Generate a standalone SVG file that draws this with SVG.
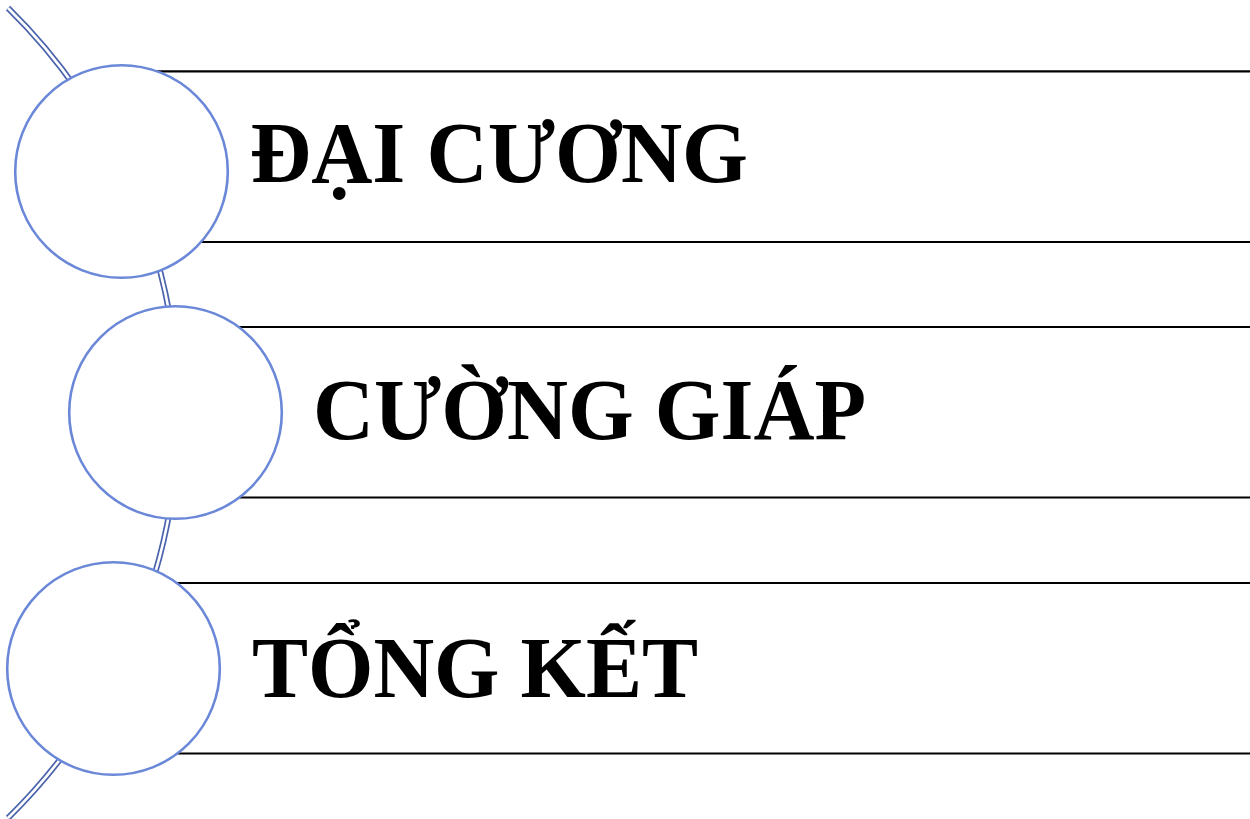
<svg xmlns="http://www.w3.org/2000/svg" width="1250" height="819" viewBox="0 0 1250 819">
<style>
.arc-out{fill:none;stroke:#4B63AD;stroke-width:6}
.arc-in{fill:none;stroke:#ffffff;stroke-width:2.6}
.band{stroke:#000000;stroke-width:2.2}
.node circle{fill:#ffffff;stroke:#6B88D8;stroke-width:2.6}
.label{font-family:"Liberation Serif","Times New Roman",serif;font-weight:bold;font-size:86px;fill:#000000}
</style>
<rect width="1250" height="819" fill="#ffffff"/>
<g id="connectors">
<path class="arc-out" d="M 8 8 A 567.3 567.3 0 0 1 8 818"/>
<path class="arc-in" d="M 8 8 A 567.3 567.3 0 0 1 8 818"/>
<line class="band" x1="121" y1="71.3" x2="1250" y2="71.3"/>
<line class="band" x1="121" y1="242" x2="1250" y2="242"/>
<line class="band" x1="175" y1="327" x2="1250" y2="327"/>
<line class="band" x1="175" y1="497.5" x2="1250" y2="497.5"/>
<line class="band" x1="113" y1="583" x2="1250" y2="583"/>
<line class="band" x1="113" y1="753.5" x2="1250" y2="753.5"/>
</g>
<g id="node1" class="node">
<circle cx="121.5" cy="171.5" r="106.3"/>
<text class="label" x="250" y="182" textLength="498" lengthAdjust="spacingAndGlyphs">ĐẠI CƯƠNG</text>
</g>
<g id="node2" class="node">
<circle cx="175.5" cy="412.5" r="106.3"/>
<text class="label" x="313" y="439" textLength="553" lengthAdjust="spacingAndGlyphs">CƯỜNG GIÁP</text>
</g>
<g id="node3" class="node">
<circle cx="113.5" cy="668.5" r="106.3"/>
<text class="label" x="252" y="697" textLength="446" lengthAdjust="spacingAndGlyphs">TỔNG KẾT</text>
</g>
</svg>
